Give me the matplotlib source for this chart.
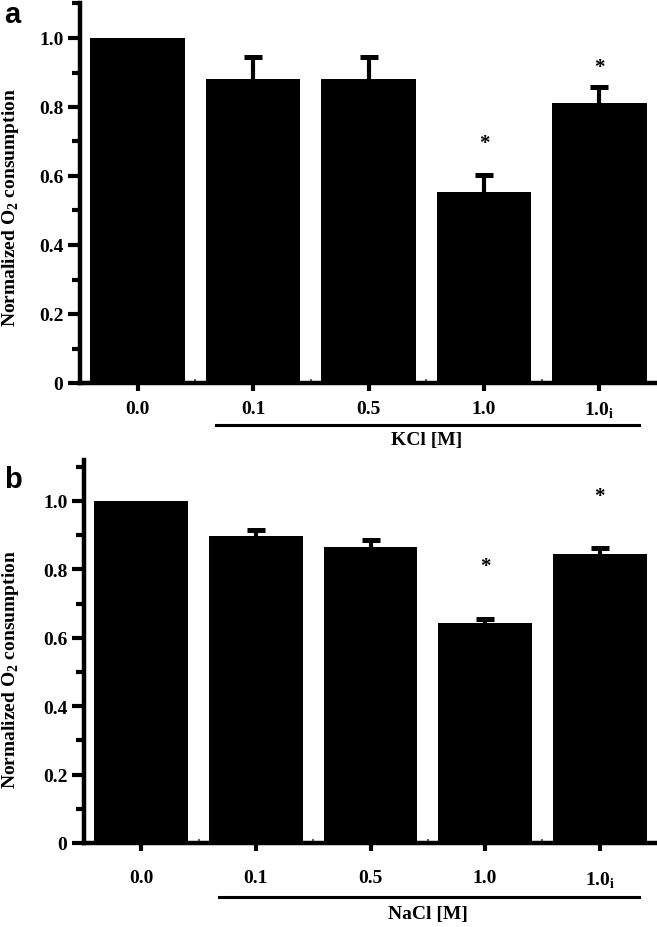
import numpy as np
import matplotlib
matplotlib.use('Agg')
import matplotlib.pyplot as plt
from matplotlib.ticker import MultipleLocator

plt.rcParams['font.family'] = ['Liberation Serif', 'DejaVu Serif']
plt.rcParams['font.weight'] = 'bold'
plt.rcParams['mathtext.fontset'] = 'custom'
plt.rcParams['mathtext.rm'] = 'Liberation Serif:bold'
plt.rcParams['mathtext.bf'] = 'Liberation Serif:bold'

categories = ['0.0', '0.1', '0.5', '1.0', r'1.0$_\mathregular{i}$']

kcl_mean = [1.0, 0.88, 0.88, 0.553, 0.813]
kcl_err = [0.0, 0.065, 0.066, 0.05, 0.045]
kcl_stars = [None, None, None, 0.697, 0.916]

nacl_mean = [1.0, 0.898, 0.865, 0.643, 0.846]
nacl_err = [0.0, 0.017, 0.02, 0.012, 0.016]
nacl_stars = [None, None, None, 0.81, 1.015]

fig = plt.figure(figsize=(6.57, 9.28), dpi=100)

def panel(rect, means, errs, stars, ytop, salt, line_y, salt_y, lab_pad, label_y, letter, letter_y):
    ax = fig.add_axes(rect)
    x = np.arange(len(means))
    means = np.array(means)
    errs = np.array(errs)
    ax.bar(x, means, width=0.82, color='black', zorder=2)
    # only the upper half of each error bar, with one cap on top
    ax.vlines(x[1:], means[1:], means[1:] + errs[1:], color='black', lw=3, zorder=3)
    ax.plot(x[1:], means[1:] + errs[1:], ls='none', marker='_', ms=13, mew=3.6,
            color='black', zorder=3)
    for xi, s in zip(x, stars):
        if s is not None:
            ax.text(xi, s, '*', ha='center', va='center', fontsize=15, fontweight='bold')
    ax.set_xlim(-0.5, 4.5)
    ax.set_ylim(0, ytop)
    for side in ['top', 'right']:
        ax.spines[side].set_visible(False)
    for side in ['left', 'bottom']:
        ax.spines[side].set_linewidth(3.2)
    ax.set_yticks([0, 0.2, 0.4, 0.6, 0.8, 1.0])
    ax.set_yticklabels(['0', '0.2', '0.4', '0.6', '0.8', '1.0'])
    ax.yaxis.set_minor_locator(MultipleLocator(0.1))
    ax.tick_params(axis='y', which='major', length=9, width=3, labelsize=14, pad=3)
    ax.tick_params(axis='y', which='minor', length=6, width=3)
    ax.set_xticks(x)
    ax.set_xticklabels(categories)
    ax.set_xticks(np.arange(0.5, 4, 1), minor=True)
    ax.tick_params(axis='x', which='major', length=6, width=3, labelsize=14, pad=lab_pad)
    ax.tick_params(axis='x', which='minor', direction='in', length=3, width=1.5, color='0.4')
    ax.set_ylabel(r'Normalized O$_\mathregular{2}$ consumption', fontsize=14,
                  fontweight='bold')
    ax.yaxis.set_label_coords(21 / 657, label_y, transform=fig.transFigure)
    ax.plot([0.68, 4.34], [line_y, line_y], color='black', lw=2.2,
            transform=ax.get_xaxis_transform(), clip_on=False)
    ax.text(2.5, salt_y, salt, ha='center', va='center', fontsize=14, fontweight='bold',
            transform=ax.get_xaxis_transform())
    fig.text(0.006, letter_y, letter, fontsize=21, fontweight='bold',
             family='Liberation Sans', va='top', ha='left')
    return ax

panel([80 / 657, 1 - 384 / 928, 577 / 657, 1.1 * 345 / 928], kcl_mean, kcl_err, kcl_stars,
      1.1, 'KCl [M]', -0.111, -0.15, 6, 1 - 208 / 928, 'a', 1 - 1 / 928)
panel([84 / 657, 1 - 844 / 928, 573 / 657, 1.12 * 342 / 928], nacl_mean, nacl_err, nacl_stars,
      1.12, 'NaCl [M]', -0.141, -0.185, 13, 1 - 670 / 928, 'b', 1 - 466 / 928)

fig.savefig('out.png', dpi=100)
